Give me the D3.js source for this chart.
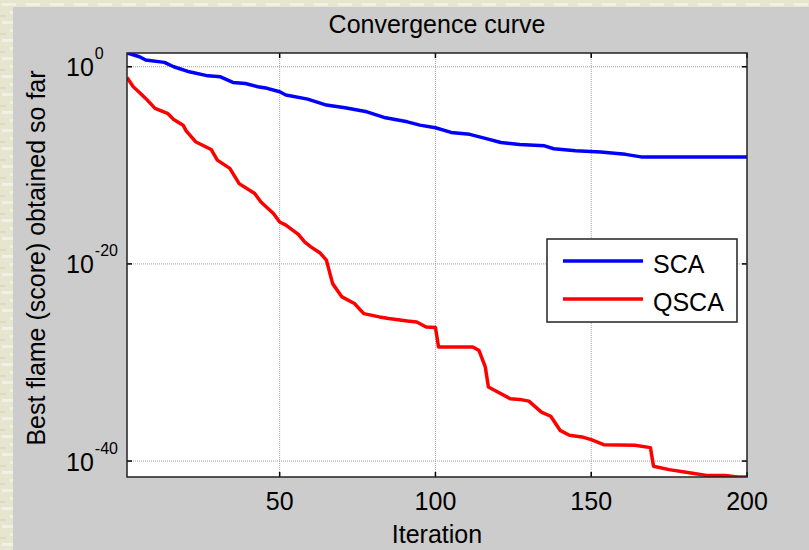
<!DOCTYPE html>
<html>
<head>
<meta charset="utf-8">
<script src="https://cdnjs.cloudflare.com/ajax/libs/d3/7.8.5/d3.min.js"></script>
<style>
  body { margin: 0; background: #e8e8d4; }
  text { font-family: "Liberation Sans", Arial, sans-serif; fill: #000; }
  .grid line { stroke: #a0a0a0; stroke-width: 1; stroke-dasharray: 1,1; }
</style>
</head>
<body>
<div id="chart"></div>
<script>
// iterations where the curve changes slope
var scaIter   = [1, 5, 7, 13, 16, 21, 27, 31, 35, 39, 43, 46, 50, 52, 59, 65, 71, 78, 84, 91,
                 95, 100, 105, 111, 116, 121, 127, 135, 138, 145, 153, 161, 166, 200];
var scaScore  = [25, 10.5, 4.8, 2.8, 1.0, 0.31, 0.12, 0.095, 0.026, 0.020, 9.3e-3, 6.5e-3, 2.9e-3,
                 1.35e-3, 5.2e-4, 1.3e-4, 6.9e-5, 2.7e-5, 6.6e-6, 2.6e-6, 1.2e-6, 6.5e-7, 2.2e-7,
                 1.4e-7, 5.4e-8, 2.1e-8, 1.3e-8, 9.5e-9, 4.8e-9, 3.0e-9, 2.3e-9, 1.3e-9, 7.2e-10, 7.2e-10];

var qscaIter  = [1, 3, 5, 7, 10, 14, 16, 19, 20, 23, 28, 30, 34, 37, 42, 44, 48, 50, 52, 56,
                 58, 60, 63, 65, 67, 70, 74, 77, 82, 85, 91, 94, 97, 100, 101, 112, 114, 116, 117,
                 120, 124, 127, 130, 134, 137, 140, 143, 147, 150, 154, 164, 169, 170, 175, 182,
                 187, 193, 197, 200];
var qscaScore = [0.083, 9.3e-3, 2.5e-3, 6.2e-4, 6.0e-5, 1.9e-5, 4.6e-6, 1.2e-6, 3.2e-7, 2.5e-8,
                 4.1e-9, 3.4e-10, 4.9e-11, 1.4e-12, 1.4e-13, 1.9e-14, 1.3e-15, 1.8e-16, 8.5e-17,
                 1.0e-17, 1.7e-18, 5.4e-19, 1.26e-19, 2.4e-20, 1.0e-22, 4.5e-24, 9.5e-25, 9.1e-26,
                 4.2e-26, 2.9e-26, 1.6e-26, 1.3e-26, 4.0e-27, 3.5e-27, 3.7e-29, 3.7e-29, 1.6e-29,
                 3.5e-31, 3.2e-33, 1.0e-33, 2.1e-34, 1.8e-34, 1.2e-34, 9.3e-36, 3.5e-36, 1.3e-37,
                 4.1e-38, 2.8e-38, 1.5e-38, 4.6e-39, 3.9e-39, 2.3e-39, 2.9e-41, 1.35e-41, 6.0e-42,
                 3.5e-42, 3.5e-42, 2.4e-42, 2.4e-42];

var xTicks = [50, 100, 150, 200];
var yTicks = [0, -20, -40];   // powers of ten
var seriesNames  = ["SCA", "QSCA"];
var seriesColors = ["#0000ff", "#ff0000"];

var W = 809, H = 550;
var margin = {top: 53, right: 62, bottom: 73, left: 127},
    width  = W - margin.left - margin.right,
    height = H - margin.top - margin.bottom;

var series = [
  {name: seriesNames[0], color: seriesColors[0],
   values: scaIter.map(function(d, i) { return {it: d, v: scaScore[i]}; })},
  {name: seriesNames[1], color: seriesColors[1],
   values: qscaIter.map(function(d, i) { return {it: d, v: qscaScore[i]}; })}
];

var allScores = scaScore.concat(qscaScore);

var x = d3.scaleLinear()
    .domain([1, 200])
    .range([0, width]);

// matlab "axis tight" on a log axis
var y = d3.scaleLog()
    .domain([d3.min(allScores), d3.max(allScores)])
    .range([height, 0]);

var svg = d3.select("#chart").append("svg")
    .attr("width", W)
    .attr("height", H);

// textured frame + grey figure background
var defs = svg.append("defs");
var pat = defs.append("pattern")
    .attr("id", "paper")
    .attr("width", 24).attr("height", 18)
    .attr("patternUnits", "userSpaceOnUse");
pat.append("rect").attr("width", 24).attr("height", 18).attr("fill", "#e6e6d0");
pat.append("rect").attr("x", 2).attr("y", 3).attr("width", 14).attr("height", 3).attr("fill", "#f1f1e2");
pat.append("rect").attr("x", 10).attr("y", 11).attr("width", 12).attr("height", 3).attr("fill", "#f0f0e0");
pat.append("rect").attr("x", 0).attr("y", 15).attr("width", 6).attr("height", 2).attr("fill", "#dcdcc4");

svg.append("rect").attr("width", W).attr("height", H).attr("fill", "url(#paper)");
svg.append("rect")
    .attr("x", 13).attr("y", 7)
    .attr("width", W - 13).attr("height", H - 7)
    .attr("fill", "#cccccc");

defs.append("clipPath").attr("id", "plotclip")
  .append("rect").attr("width", width).attr("height", height);

var g = svg.append("g")
    .attr("transform", "translate(" + margin.left + "," + margin.top + ")");

g.append("rect")
    .attr("width", width).attr("height", height)
    .attr("fill", "#fff");

// dotted grid
var grid = g.append("g").attr("class", "grid");
grid.selectAll(".gx").data(xTicks.filter(function(d) { return d < 200; })).enter()
  .append("line")
    .attr("x1", function(d) { return x(d); }).attr("x2", function(d) { return x(d); })
    .attr("y1", 0).attr("y2", height);
grid.selectAll(".gy").data(yTicks).enter()
  .append("line")
    .attr("x1", 0).attr("x2", width)
    .attr("y1", function(d) { return y(Math.pow(10, d)); })
    .attr("y2", function(d) { return y(Math.pow(10, d)); });

// curves
var line = d3.line()
    .x(function(d) { return x(d.it); })
    .y(function(d) { return y(d.v); });

g.append("g").attr("clip-path", "url(#plotclip)")
  .selectAll("path").data(series).enter()
  .append("path")
    .attr("d", function(d) { return line(d.values); })
    .attr("fill", "none")
    .attr("stroke", function(d) { return d.color; })
    .attr("stroke-width", 3.5)
    .attr("stroke-linejoin", "round");

// inward ticks on all four sides
var tickLen = 5;
var ticks = g.append("g").attr("stroke", "#000").attr("stroke-width", 1.5);
xTicks.forEach(function(t) {
  ticks.append("line").attr("x1", x(t)).attr("x2", x(t)).attr("y1", height).attr("y2", height - tickLen);
  ticks.append("line").attr("x1", x(t)).attr("x2", x(t)).attr("y1", 0).attr("y2", tickLen);
});
yTicks.forEach(function(t) {
  var yy = y(Math.pow(10, t));
  ticks.append("line").attr("x1", 0).attr("x2", tickLen).attr("y1", yy).attr("y2", yy);
  ticks.append("line").attr("x1", width).attr("x2", width - tickLen).attr("y1", yy).attr("y2", yy);
});

// axes box
g.append("rect")
    .attr("width", width).attr("height", height)
    .attr("fill", "none")
    .attr("stroke", "#222")
    .attr("stroke-width", 1.5);

// tick labels
g.selectAll(".xlab").data(xTicks).enter()
  .append("text")
    .attr("x", function(d) { return x(d); })
    .attr("y", height + 33)
    .attr("text-anchor", "middle")
    .style("font-size", "25px")
    .text(function(d) { return d; });

// the "10" base lines up, exponent hangs off to the right
var ylab = g.selectAll(".ylab").data(yTicks).enter()
  .append("text")
    .attr("x", -61)
    .attr("y", function(d) { return y(Math.pow(10, d)) + 9.5; })
    .attr("text-anchor", "start")
    .style("font-size", "25px");
ylab.append("tspan").text("10");
ylab.append("tspan")
    .attr("dy", -17)
    .attr("dx", 1)
    .style("font-size", "16px")
    .text(function(d) { return d; });

// titles
svg.append("text")
    .attr("x", margin.left + width / 2)
    .attr("y", 33)
    .attr("text-anchor", "middle")
    .style("font-size", "25px")
    .text("Convergence curve");

svg.append("text")
    .attr("x", margin.left + width / 2)
    .attr("y", 543)
    .attr("text-anchor", "middle")
    .style("font-size", "25px")
    .text("Iteration");

svg.append("text")
    .attr("transform", "translate(45,258) rotate(-90)")
    .attr("text-anchor", "middle")
    .style("font-size", "25px")
    .text("Best flame (score) obtained so far");

// legend
var legend = svg.append("g").attr("transform", "translate(547,239)");
legend.append("rect")
    .attr("width", 190).attr("height", 83)
    .attr("fill", "#fff")
    .attr("stroke", "#222")
    .attr("stroke-width", 1.5);
var item = legend.selectAll(".item").data(series).enter()
  .append("g")
    .attr("transform", function(d, i) { return "translate(0," + (22 + i * 38) + ")"; });
item.append("line")
    .attr("x1", 16).attr("x2", 96)
    .attr("stroke", function(d) { return d.color; })
    .attr("stroke-width", 3.5);
item.append("text")
    .attr("x", 106).attr("y", 12)
    .style("font-size", "25px")
    .text(function(d) { return d.name; });
</script>
</body>
</html>
